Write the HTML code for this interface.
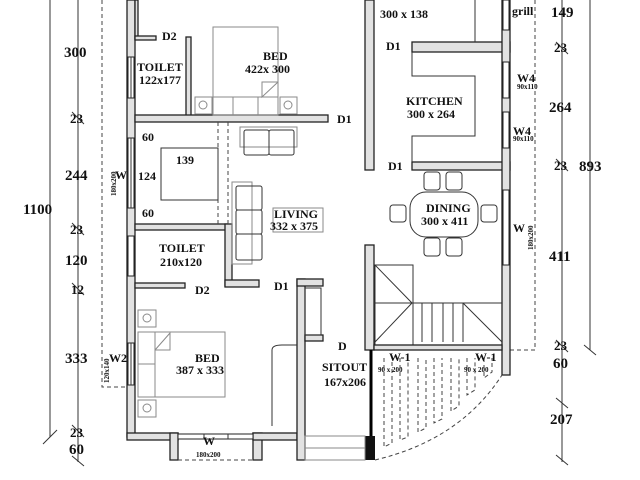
<!DOCTYPE html>
<html><head><meta charset="utf-8"><style>
html,body{margin:0;padding:0;background:#fff;}
svg{display:block}
text{font-family:"Liberation Serif",serif;font-weight:bold;fill:#111;}
.w{fill:#e2e2e2;stroke:#222;stroke-width:1.3}
.l{fill:none;stroke:#333;stroke-width:1}
.g{fill:none;stroke:#8a8a8a;stroke-width:1}
.d{fill:none;stroke:#444;stroke-width:1;stroke-dasharray:4,3}
.win{fill:#fff;stroke:#222;stroke-width:1}
</style></head><body>
<svg width="640" height="480" viewBox="0 0 640 480" xmlns="http://www.w3.org/2000/svg">
<rect width="640" height="480" fill="#fff"/>
<line class="l" x1="50" y1="0" x2="50" y2="437"/>
<line class="l" x1="43" y1="444" x2="57" y2="430"/>
<line class="l" x1="78" y1="0" x2="78" y2="462"/>
<g class="l">
<line x1="72" y1="112" x2="84" y2="124"/><line x1="72" y1="223" x2="84" y2="235"/>
<line x1="72" y1="283" x2="84" y2="295"/><line x1="72" y1="425" x2="84" y2="437"/>
<line x1="72" y1="456" x2="84" y2="466"/>
</g>
<polyline class="d" points="102,0 102,387 128,387"/>
<line class="l" x1="562" y1="0" x2="562" y2="462"/>
<line class="l" x1="590" y1="0" x2="590" y2="350"/>
<g class="l">
<line x1="556" y1="42" x2="568" y2="54"/><line x1="556" y1="159" x2="568" y2="171"/>
<line x1="556" y1="340" x2="568" y2="352"/><line x1="556" y1="398" x2="568" y2="408"/>
<line x1="556" y1="455" x2="568" y2="465"/><line x1="584" y1="345" x2="596" y2="355"/>
</g>
<polyline class="d" points="535,0 535,350 510,350"/>

<rect class="w" x="127" y="0" width="8" height="437"/>
<rect class="w" x="135" y="0" width="3" height="39"/>
<rect class="w" x="135" y="36" width="21" height="4"/>
<rect class="w" x="186" y="37" width="5" height="80"/>
<rect class="w" x="135" y="115" width="193" height="7"/>
<rect class="w" x="135" y="224" width="92" height="6"/>
<rect class="w" x="225" y="224" width="7" height="62"/>
<rect class="w" x="225" y="280" width="34" height="7"/>
<rect class="w" x="135" y="283" width="50" height="5"/>
<rect class="w" x="127" y="433" width="51" height="7"/>
<rect class="w" x="170" y="433" width="8" height="27"/>
<rect class="w" x="253" y="433" width="9" height="27"/>
<rect class="w" x="253" y="433" width="44" height="7"/>
<rect class="w" x="297" y="279" width="8" height="181"/>
<rect class="w" x="297" y="279" width="26" height="7"/>
<rect class="w" x="305" y="335" width="18" height="6"/>
<rect class="l" x="305" y="288" width="16" height="47"/>
<rect class="w" x="365" y="0" width="9" height="170"/>
<rect class="w" x="412" y="42" width="98" height="10"/>
<rect class="w" x="412" y="162" width="98" height="8"/>
<rect class="w" x="502" y="0" width="8" height="375"/>
<rect class="w" x="365" y="245" width="9" height="105"/>
<rect class="win" x="128" y="57" width="6" height="41"/><line class="l" x1="131" y1="57" x2="131" y2="98"/>
<rect class="win" x="128" y="138" width="6" height="70"/><line class="l" x1="131" y1="138" x2="131" y2="208"/>
<rect class="win" x="128" y="236" width="6" height="40"/>
<rect class="win" x="128" y="343" width="6" height="42"/><line class="l" x1="131" y1="343" x2="131" y2="385"/>
<rect class="win" x="503" y="0" width="6" height="30"/>
<rect class="win" x="503" y="62" width="6" height="36"/>
<rect class="win" x="503" y="112" width="6" height="36"/>
<rect class="win" x="503" y="190" width="6" height="75"/>
<rect class="win" x="178" y="434" width="75" height="5"/>
<line class="l" x1="204" y1="434" x2="204" y2="439"/><line class="l" x1="228" y1="434" x2="228" y2="439"/>
<line class="d" x1="178" y1="460" x2="253" y2="460"/>
<polyline class="l" points="412,52 412,76 475,76 475,136 412,136 412,162"/>
<line class="l" x1="475" y1="0" x2="475" y2="42"/>
<rect class="g" x="213" y="27" width="65" height="70"/>
<rect class="g" x="213" y="97" width="65" height="18"/>
<line class="g" x1="233" y1="97" x2="233" y2="115"/><line class="g" x1="258" y1="97" x2="258" y2="115"/>
<polyline class="g" points="278,82 262,82 262,97 278,82"/>
<rect class="g" x="195" y="97" width="17" height="17"/><circle class="g" cx="203" cy="105" r="4"/>
<rect class="g" x="280" y="97" width="17" height="17"/><circle class="g" cx="288" cy="105" r="4"/>
<line class="d" x1="218" y1="122" x2="218" y2="224"/>
<line class="d" x1="228" y1="122" x2="228" y2="224"/>
<rect class="l" x="161" y="148" width="57" height="52"/>
<rect class="g" x="240" y="127" width="57" height="20"/>
<rect class="l" x="244" y="130" width="25" height="25" rx="2"/><rect class="l" x="269" y="130" width="25" height="25" rx="2"/>
<rect class="g" x="232" y="182" width="20" height="82"/>
<rect class="l" x="236" y="186" width="26" height="24" rx="2"/>
<rect class="l" x="236" y="210" width="26" height="24" rx="2"/>
<rect class="l" x="236" y="234" width="26" height="26" rx="2"/>
<rect class="g" x="273" y="208" width="50" height="24"/>
<rect class="l" x="410" y="192" width="68" height="45" rx="16"/>
<g class="l">
<rect x="424" y="172" width="16" height="18" rx="3"/><rect x="446" y="172" width="16" height="18" rx="3"/>
<rect x="424" y="238" width="16" height="18" rx="3"/><rect x="446" y="238" width="16" height="18" rx="3"/>
<rect x="390" y="205" width="16" height="17" rx="3"/><rect x="481" y="205" width="16" height="17" rx="3"/>
</g>
<rect class="g" x="155" y="332" width="70" height="65"/>
<rect class="g" x="138" y="332" width="17" height="65"/>
<line class="g" x1="138" y1="364" x2="155" y2="364"/>
<polyline class="g" points="155,350 170,333 170,350 155,350"/>
<rect class="g" x="138" y="310" width="18" height="17"/><circle class="g" cx="147" cy="318" r="4"/>
<rect class="g" x="138" y="400" width="18" height="17"/><circle class="g" cx="147" cy="408" r="4"/>
<path class="l" d="M272,426 L272,350 Q272,345 282,345 L297,345"/>
<rect class="l" x="375" y="265" width="38" height="85"/>
<line class="l" x1="374" y1="303" x2="502" y2="303"/>
<line class="l" x1="412" y1="303" x2="463" y2="303" stroke-width="2.5"/>
<line class="l" x1="375" y1="265" x2="412" y2="303"/>
<line class="l" x1="375" y1="342" x2="412" y2="303"/>
<line class="l" x1="463" y1="303" x2="502" y2="342"/>
<g class="l"><line x1="422" y1="303" x2="422" y2="342"/><line x1="432" y1="303" x2="432" y2="342"/><line x1="443" y1="303" x2="443" y2="342"/><line x1="453" y1="303" x2="453" y2="342"/><line x1="463" y1="303" x2="463" y2="342"/></g>
<rect class="w" x="374" y="345" width="128" height="5"/>
<line x1="371" y1="350" x2="371" y2="460" stroke="#000" stroke-width="3"/>
<rect x="365" y="436" width="10" height="24" fill="#111"/>
<rect class="g" x="305" y="436" width="60" height="24"/><line class="g" x1="305" y1="448" x2="365" y2="448"/>
<path class="d" d="M375,460 Q460,440 502,375"/>
<g class="d">
<polyline points="384,358 384,447 392,443 392,358"/><polyline points="400,358 400,440 408,437 408,358"/>
<polyline points="418,358 418,432 426,428 426,358"/><polyline points="434,358 434,423 442,419 442,358"/>
<polyline points="451,358 451,411 459,406 459,358"/><polyline points="467,358 467,395 475,390 475,358"/>
<polyline points="484,358 484,378 492,372 492,358"/>
</g>

<g font-size="15">
<text x="64" y="57">300</text><text x="70" y="123" font-size="13">23</text>
<text x="65" y="180">244</text><text x="23" y="214">1100</text>
<text x="70" y="234" font-size="13">23</text><text x="65" y="265">120</text>
<text x="71" y="294" font-size="13">12</text><text x="65" y="363">333</text>
<text x="70" y="437" font-size="13">23</text><text x="69" y="454">60</text>
<text x="551" y="17">149</text><text x="554" y="52" font-size="13">23</text>
<text x="549" y="112">264</text><text x="554" y="170" font-size="13">23</text>
<text x="579" y="171">893</text><text x="549" y="261">411</text>
<text x="554" y="350" font-size="13">23</text><text x="553" y="368">60</text>
<text x="550" y="424">207</text>
</g>
<g font-size="12">
<text x="162" y="40">D2</text><text x="137" y="71">TOILET</text><text x="139" y="84">122x177</text>
<text x="263" y="60">BED</text><text x="245" y="73">422x 300</text>
<text x="337" y="123">D1</text>
<text x="142" y="141">60</text><text x="176" y="164">139</text><text x="138" y="180">124</text><text x="142" y="217">60</text>
<text x="115" y="179">W</text>
<text x="274" y="218">LIVING</text><text x="270" y="230">332 x 375</text>
<text x="159" y="252">TOILET</text><text x="160" y="266">210x120</text>
<text x="195" y="294">D2</text><text x="274" y="290">D1</text>
<text x="195" y="362">BED</text><text x="176" y="374">387 x 333</text>
<text x="109" y="362">W2</text>
<text x="203" y="445">W</text>
<text x="338" y="350">D</text>
<text x="322" y="371">SITOUT</text><text x="324" y="386">167x206</text>
<text x="380" y="18">300 x 138</text>
<text x="512" y="15">grill</text>
<text x="386" y="50">D1</text><text x="388" y="170">D1</text>
<text x="406" y="105">KITCHEN</text><text x="407" y="118">300 x 264</text>
<text x="517" y="82">W4</text><text x="513" y="135">W4</text>
<text x="426" y="212">DINING</text><text x="421" y="225">300 x 411</text>
<text x="513" y="232">W</text>
<text x="389" y="361">W-1</text><text x="475" y="361">W-1</text>
</g>
<g font-size="7">
<text x="517" y="89">90x110</text><text x="513" y="141">90x110</text>
<text x="378" y="372">90 x 200</text><text x="464" y="372">90 x 200</text>
<text x="196" y="457">180x200</text>
<text transform="translate(116,196) rotate(-90)">180x200</text>
<text transform="translate(109,383) rotate(-90)">120x140</text>
<text transform="translate(533,250) rotate(-90)">180x200</text>
</g>
</svg></body></html>
